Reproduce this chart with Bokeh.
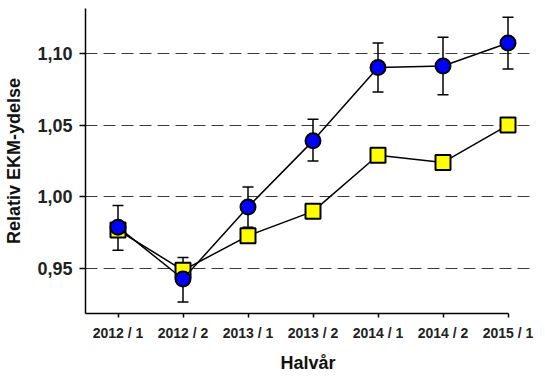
from bokeh.plotting import figure
from bokeh.models import Range1d, FixedTicker, Whisker, ColumnDataSource, TeeHead
from bokeh.embed import file_html
from bokeh.resources import INLINE

categories = ["2012 / 1", "2012 / 2", "2013 / 1", "2013 / 2", "2014 / 1", "2014 / 2", "2015 / 1"]
blue_values = [0.979, 0.943, 0.993, 1.039, 1.090, 1.091, 1.107]
blue_upper = [0.994, 0.958, 1.007, 1.054, 1.107, 1.111, 1.125]
blue_lower = [0.963, 0.927, 0.979, 1.025, 1.073, 1.071, 1.089]
yellow_values = [0.977, 0.949, 0.973, 0.990, 1.029, 1.024, 1.050]
y_ticks = [0.95, 1.00, 1.05, 1.10]
y_tick_labels = ["0,95", "1,00", "1,05", "1,10"]

x_idx = list(range(len(categories)))
FONT = "Liberation Sans"

p = figure(width=540, height=380, output_backend="svg", toolbar_location=None,
           x_range=Range1d(-0.5, 6.346), y_range=Range1d(0.919, 1.131),
           min_border_left=85, min_border_right=10, min_border_top=8, min_border_bottom=67)
p.outline_line_color = None
p.background_fill_color = "white"
p.border_fill_color = "white"

# axes
p.xaxis.ticker = FixedTicker(ticks=x_idx)
p.xaxis.major_label_overrides = {i: c for i, c in zip(x_idx, categories)}
p.xaxis.bounds = (-0.5, 6)
p.yaxis.ticker = FixedTicker(ticks=y_ticks)
p.yaxis.major_label_overrides = {t: l for t, l in zip(y_ticks, y_tick_labels)}
for ax in (p.xaxis, p.yaxis):
    ax.axis_line_color = "black"
    ax.axis_line_width = 1.5
    ax.major_tick_line_color = "black"
    ax.major_tick_line_width = 1.5
    ax.major_tick_in = 0
    ax.minor_tick_line_color = None
    ax.major_label_text_font = FONT
    ax.major_label_text_font_style = "bold"
    ax.major_label_text_color = "#222222"
    ax.axis_label_text_font = FONT
    ax.axis_label_text_font_style = "bold"
    ax.axis_label_text_color = "#111111"
p.xaxis.major_tick_out = 4
p.yaxis.major_tick_out = 6
p.xaxis.major_label_text_font_size = "14px"
p.yaxis.major_label_text_font_size = "18px"
p.xaxis.major_label_standoff = 7
p.yaxis.major_label_standoff = 7
p.xaxis.axis_label = "Halvår"
p.yaxis.axis_label = "Relativ EKM-ydelse"
p.xaxis.axis_label_text_font_size = "18px"
p.yaxis.axis_label_text_font_size = "18px"
p.xaxis.axis_label_standoff = 9
p.yaxis.axis_label_standoff = 10

p.xgrid.grid_line_color = None
p.ygrid.grid_line_color = "#3a3a3a"
p.ygrid.grid_line_dash = "12 6"
p.ygrid.grid_line_width = 1
p.ygrid.bounds = (-0.5, 6)

src_b = ColumnDataSource(dict(x=x_idx, y=blue_values, upper=blue_upper, lower=blue_lower))
src_y = ColumnDataSource(dict(x=x_idx, y=yellow_values))

w = Whisker(source=src_b, base="x", upper="upper", lower="lower", line_color="black", line_width=1.5,
            upper_head=TeeHead(size=11, line_color="black", line_width=1.5),
            lower_head=TeeHead(size=11, line_color="black", line_width=1.5))
p.add_layout(w)

p.line("x", "y", source=src_y, line_color="black", line_width=1.5)
p.scatter("x", "y", source=src_y, marker="square", size=15, fill_color="#FFFF00",
          line_color="black", line_width=2)
p.line("x", "y", source=src_b, line_color="black", line_width=1.5)
p.scatter("x", "y", source=src_b, marker="circle", size=15, fill_color="#0000FF",
          line_color="black", line_width=2)

open("out.html", "w").write(file_html(p, INLINE))
